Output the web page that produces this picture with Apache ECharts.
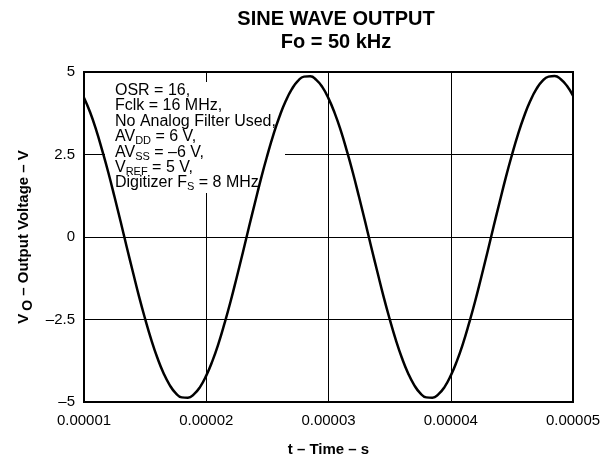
<!DOCTYPE html>
<html><head><meta charset="utf-8">
<script src="https://cdn.jsdelivr.net/npm/echarts@6/dist/echarts.min.js"></script>
<style>html,body{margin:0;padding:0;background:#fff}#c{width:610px;height:458px}</style>
</head><body><div id="c"></div>
<script>
// sample times in microseconds
const timeUs = [10,10.5,11,11.5,12,12.5,13,13.5,14,14.5,15,15.5,16,16.5,17,17.5,18,18.5,19,19.5,
  20,20.5,21,21.5,22,22.5,23,23.5,24,24.5,25,25.5,26,26.5,27,27.5,28,28.5,29,29.5,
  30,30.5,31,31.5,32,32.5,33,33.5,34,34.5,35,35.5,36,36.5,37,37.5,38,38.5,39,39.5,
  40,40.5,41,41.5,42,42.5,43,43.5,44,44.5,45,45.5,46,46.5,47,47.5,48,48.5,49,49.5,50];
// output voltage (V)
const voltage = [4.22,3.78,3.24,2.61,1.94,1.21,0.46,-0.31,-1.06,-1.80,-2.48,-3.11,-3.66,-4.12,-4.48,-4.73,-4.86,-4.87,-4.76,-4.54,
  -4.20,-3.76,-3.23,-2.61,-1.94,-1.21,-0.46,0.31,1.06,1.80,2.48,3.11,3.66,4.12,4.48,4.73,4.86,4.87,4.76,4.54,
  4.20,3.76,3.23,2.61,1.94,1.21,0.46,-0.31,-1.06,-1.80,-2.48,-3.11,-3.66,-4.12,-4.48,-4.73,-4.86,-4.87,-4.76,-4.54,
  -4.20,-3.76,-3.23,-2.61,-1.94,-1.21,-0.46,0.31,1.06,1.80,2.48,3.11,3.66,4.12,4.48,4.73,4.86,4.88,4.78,4.58,4.28];
const xTicks = [0.00001,0.00002,0.00003,0.00004,0.00005];
const yTicks = [-5,-2.5,0,2.5,5];
const titleLines = ['SINE WAVE OUTPUT','Fo = 50 kHz'];
const xName = 't – Time – s';
const yName = '{b|V}{s|O}{b| – Output Voltage – V}';
const noteLines = [
  '{n|OSR = 16,}',
  '{n|Fclk = 16 MHz,}',
  '{n|No Analog Filter Used,}',
  '{n|AV}{s|DD}{n| = 6 V,}',
  '{n|AV}{s|SS}{n| = –6 V,}',
  '{n|V}{s|REF}{n| = 5 V,}',
  '{n|Digitizer F}{s|S}{n| = 8 MHz}'
];

const FONT = '"Liberation Sans", Arial, Helvetica, sans-serif';
const chart = echarts.init(document.getElementById('c'), null, {renderer:'canvas'});
const data = timeUs.map((t,i)=>[t/1e6, voltage[i]]);

const graphics = [];
titleLines.forEach((t,i)=>{
  graphics.push({type:'text', x:336, y:19 + i*23, z:5,
    style:{text:t, align:'center', verticalAlign:'middle', fontSize:20, fontWeight:'bold', fontFamily:FONT, fill:'#000'}});
});
graphics.push({type:'rect', z:1, shape:{x:105, y:82, width:180, height:111}, style:{fill:'#fff'}});
noteLines.forEach((t,i)=>{
  graphics.push({type:'text', x:115, y:82.5 + i*15.4, z:1,
    style:{text:t, align:'left', verticalAlign:'top', fontFamily:FONT, fill:'#000',
      rich:{
        n:{fontSize:16, lineHeight:16, verticalAlign:'top', fontFamily:FONT, fill:'#000'},
        s:{fontSize:11, lineHeight:11, verticalAlign:'top', padding:[7,0,0,0], fontFamily:FONT, fill:'#000'}
      }}});
});

chart.setOption({
  animation:false,
  backgroundColor:'#fff',
  grid:{left:84, right:37, top:72, bottom:56, containLabel:false, outerBoundsMode:'none',
    show:true, borderColor:'#000', borderWidth:2, backgroundColor:'transparent'},
  xAxis:{type:'value', min:xTicks[0], max:xTicks[xTicks.length-1], interval:xTicks[1]-xTicks[0],
    name:xName, nameLocation:'middle', nameGap:40,
    nameTextStyle:{fontSize:15, lineHeight:15, fontWeight:'bold', fontFamily:FONT, color:'#000'},
    axisLine:{show:true, onZero:false, lineStyle:{color:'#000', width:2}},
    axisTick:{show:false},
    axisLabel:{fontSize:15, fontFamily:FONT, color:'#000', margin:11, formatter:v=>v.toFixed(5)},
    splitLine:{show:true, lineStyle:{color:'#000', width:1}}},
  yAxis:{type:'value', min:yTicks[0], max:yTicks[yTicks.length-1], interval:yTicks[1]-yTicks[0],
    name:yName, nameLocation:'middle', nameGap:48, nameRotate:90,
    nameTextStyle:{fontSize:15, fontWeight:'bold', fontFamily:FONT, color:'#000',
      rich:{b:{fontSize:15, fontWeight:'bold', fontFamily:FONT, color:'#000', lineHeight:15, verticalAlign:'top'},
            s:{fontSize:14, fontWeight:'bold', fontFamily:FONT, color:'#000', lineHeight:14, verticalAlign:'top', padding:[5,0,0,3]}}},
    axisLine:{show:true, onZero:false, lineStyle:{color:'#000', width:2}},
    axisTick:{show:false},
    axisLabel:{fontSize:15, fontFamily:FONT, color:'#000', margin:9, formatter:v=>String(v).replace('-','–')},
    splitLine:{show:true, lineStyle:{color:'#000', width:1}}},
  graphic:graphics,
  series:[{type:'line', data:data, smooth:true, showSymbol:false, z:3,
    lineStyle:{color:'#000', width:2.5}}]
});
</script></body></html>
